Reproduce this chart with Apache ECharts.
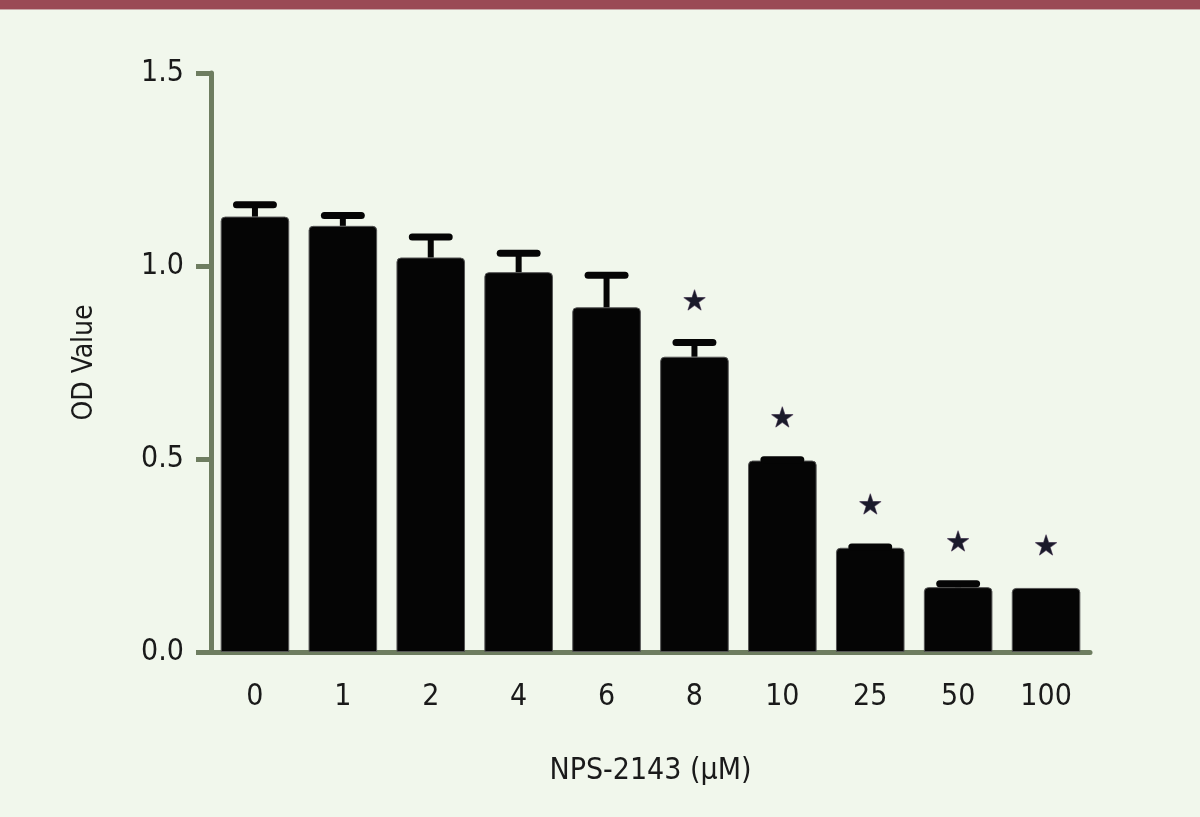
<!DOCTYPE html>
<html><head><meta charset="utf-8">
<script src="https://cdn.jsdelivr.net/npm/echarts@6/dist/echarts.min.js"></script>
<style>html,body{margin:0;padding:0;background:#f1f7ec}#c{width:1200px;height:817px}</style>
</head><body><div id="c"></div>
<script>
const categories = ['0','1','2','4','6','8','10','25','50','100'];
const means = [1.128, 1.104, 1.022, 0.984, 0.893, 0.765, 0.496, 0.270, 0.168, 0.166];
const sds   = [0.031, 0.027, 0.053, 0.049, 0.083, 0.037, 0.002, 0.002, 0.009, 0.000];
const significant = [false, false, false, false, false, true, true, true, true, true];
const yTicks = [0, 0.5, 1.0, 1.5];

const axisColor = '#6e7d60';
const font = 'DejaVu Sans Condensed';
const chart = echarts.init(document.getElementById('c'));
chart.setOption({
  backgroundColor: '#f1f7ec',
  animation: false,
  graphic: [
    {type:'rect', shape:{x:0,y:0,width:1200,height:9}, style:{fill:'#9a4a55'}},
    {type:'rect', shape:{x:0,y:9,width:1200,height:1}, style:{fill:'#c9a9a9'}}
  ],
  grid: {left: 211, right: 110, top: 73, bottom: 165},
  xAxis: {
    type: 'category', data: categories,
    axisLine: {lineStyle: {color: axisColor, width: 5}},
    axisTick: {alignWithLabel: true, length: 14, lineStyle: {color: axisColor, width: 5}},
    axisLabel: {margin: 30, color: '#1a1a1a', fontSize: 30, fontFamily: font},
    name: 'NPS-2143 (μM)', nameLocation: 'middle', nameGap: 104,
    nameTextStyle: {color: '#1a1a1a', fontSize: 30, fontFamily: font}
  },
  yAxis: {
    type: 'value', min: 0, max: 1.5, interval: 0.5,
    axisLine: {show: true, lineStyle: {color: axisColor, width: 5}},
    axisTick: {show: true, length: 15, lineStyle: {color: axisColor, width: 5}},
    splitLine: {show: false},
    axisLabel: {margin: 27, color: '#1a1a1a', fontSize: 30, fontFamily: font,
      formatter: v => yTicks.includes(v) ? v.toFixed(1) : ''},
    name: 'OD Value', nameLocation: 'middle', nameGap: 112,
    nameTextStyle: {color: '#1a1a1a', fontSize: 28, fontFamily: font}
  },
  series: [
    {
      type: 'bar', data: means, barWidth: '78%',
      itemStyle: {color: '#050505', borderColor: '#555', borderWidth: 1, borderRadius: [4,4,0,0]},
      z: 2
    },
    {
      type: 'custom', z: 3,
      data: means.map((m, i) => [i, m, sds[i]]),
      renderItem: (params, api) => {
        const i = api.value(0), m = api.value(1), s = api.value(2);
        if (s <= 0) return null;
        const base = api.coord([i, m]);
        const top = api.coord([i, m + s]);
        const half = api.size([1, 0])[0] * 0.21;
        return {type: 'group', children: [
          {type: 'line', shape: {x1: base[0], y1: base[1], x2: top[0], y2: top[1]},
           style: {stroke: '#050505', lineWidth: 6}},
          {type: 'line', shape: {x1: top[0] - half, y1: top[1], x2: top[0] + half, y2: top[1]},
           style: {stroke: '#050505', lineWidth: 7, lineCap: 'round'}}
        ]};
      }
    },
    {
      type: 'custom', z: 4,
      data: means.map((m, i) => [i, m + sds[i], significant[i] ? 1 : 0]),
      renderItem: (params, api) => {
        if (!api.value(2)) return null;
        const p = api.coord([api.value(0), api.value(1)]);
        return {type: 'text', x: p[0], y: p[1] - 40,
          style: {text: '★', fill: '#1a1a2a', font: '28px DejaVu Sans', align: 'center', verticalAlign: 'middle',
                  stroke: '#8a7a90', lineWidth: 1}};
      }
    }
  ]
});
</script></body></html>
